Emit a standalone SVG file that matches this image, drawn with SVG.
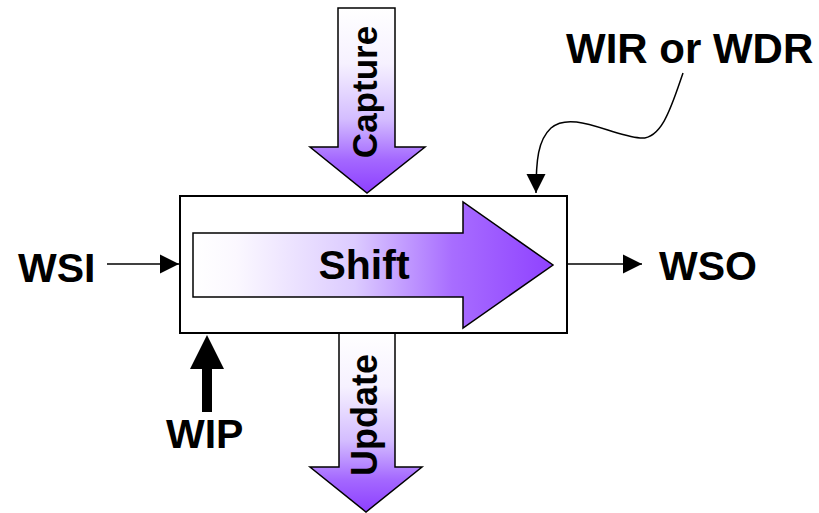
<svg xmlns="http://www.w3.org/2000/svg" width="819" height="513" viewBox="0 0 819 513">
  <style>
    .lbl { font-family: "Liberation Sans", Arial, sans-serif; font-weight: bold; fill: #000; }
    .big { font-size: 41px; }
    .fat { stroke: #000; stroke-width: 1.5; stroke-linejoin: miter; }
    .wire { stroke: #000; stroke-width: 1.5; fill: none; }
  </style>
  <defs>
    <linearGradient id="gradH" x1="0" y1="0" x2="1" y2="0">
      <stop offset="0" stop-color="#ffffff"/>
      <stop offset="0.12" stop-color="#fbf8ff"/>
      <stop offset="0.45" stop-color="#dccbff"/>
      <stop offset="0.72" stop-color="#a86dff"/>
      <stop offset="1" stop-color="#8f42ff"/>
    </linearGradient>
    <linearGradient id="gradV" x1="0" y1="0" x2="0" y2="1">
      <stop offset="0" stop-color="#ffffff"/>
      <stop offset="0.3" stop-color="#f6f1ff"/>
      <stop offset="0.6" stop-color="#d4bdff"/>
      <stop offset="0.82" stop-color="#a468ff"/>
      <stop offset="1" stop-color="#8d3fff"/>
    </linearGradient>
    <marker id="tip" viewBox="0 0 10 10" refX="10" refY="5" markerWidth="19" markerHeight="20" markerUnits="userSpaceOnUse" orient="auto">
      <path d="M0,0 L10,5 L0,10 Z" fill="#000"/>
    </marker>
  </defs>

  <!-- capture arrow coming down into the register -->
  <g id="capture">
    <path class="fat" fill="url(#gradV)" d="M338,8 L395,8 L395,147 L425,147 L367,193 L310,147 L338,147 Z"/>
    <text class="lbl" font-size="35" transform="translate(377,92) rotate(-90)" text-anchor="middle">Capture</text>
  </g>

  <!-- update arrow leaving the register downward -->
  <g id="update">
    <path class="fat" fill="url(#gradV)" d="M339,333 L395,333 L395,467 L422,467 L366,512 L310,467 L339,467 Z"/>
    <text class="lbl" font-size="36" transform="translate(377,415) rotate(-90)" text-anchor="middle">Update</text>
  </g>

  <!-- register box with the shift path -->
  <g id="register">
    <rect x="180" y="196" width="387" height="137" fill="#fff" stroke="#000" stroke-width="2"/>
    <path fill="url(#gradH)" stroke="#000" stroke-width="1.5" d="M193,233 L463,233 L463,202 L553,265 L463,328 L463,297 L193,297 Z"/>
    <text class="lbl" font-size="41" x="364" y="279" text-anchor="middle">Shift</text>
  </g>

  <g id="wsi"><text class="lbl big" x="18" y="282">WSI</text></g>
  <g id="wso"><text class="lbl big" x="659" y="280">WSO</text></g>
  <g id="wip"><text class="lbl big" x="166" y="448">WIP</text></g>
  <g id="wir-wdr"><text class="lbl" font-size="42" x="566" y="63">WIR or WDR</text></g>

  <g id="connectors">
    <line class="wire" x1="107" y1="264" x2="179" y2="264" marker-end="url(#tip)"/>
    <line class="wire" x1="568" y1="264" x2="642" y2="264" marker-end="url(#tip)"/>
    <path class="wire" d="M683,73 C672,105 662,140 640,138 C612,136 572,110 551,128 C538,140 536,160 536,193" marker-end="url(#tip)"/>
    <!-- WIP thick arrow -->
    <rect x="202" y="368" width="10" height="44" fill="#000"/>
    <path d="M207,335 L224,369 L190,369 Z" fill="#000"/>
  </g>
</svg>
